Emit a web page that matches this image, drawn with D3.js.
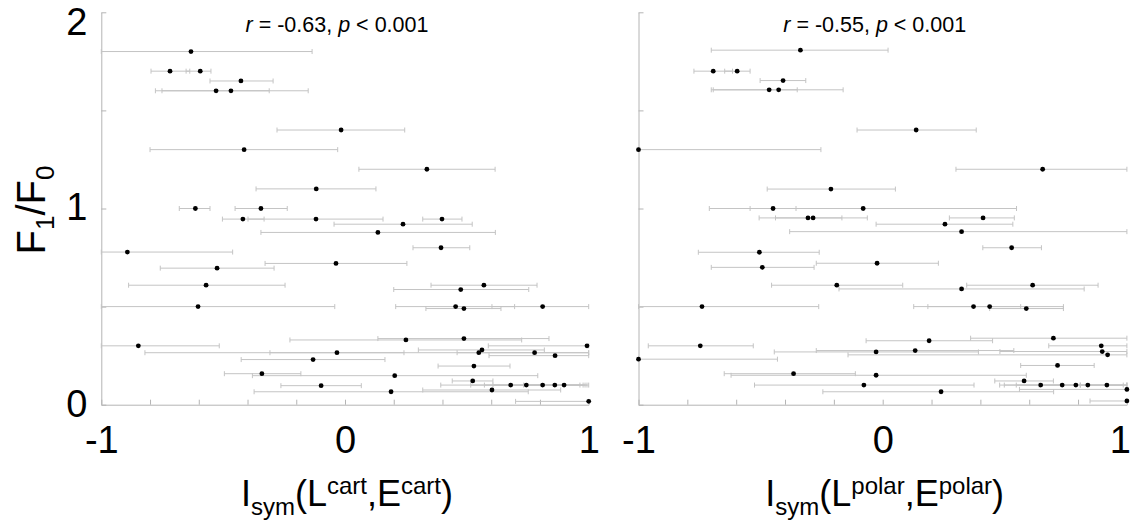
<!DOCTYPE html>
<html>
<head>
<meta charset="utf-8">
<script src="https://cdn.jsdelivr.net/npm/d3@7"></script>
<style>
  body { margin: 0; background: #fff; }
  svg { display: block; font-family: Arial, "Liberation Sans", sans-serif; }
</style>
</head>
<body>
<script>
const w = 1133;
const h = 522;

// F1/F0 values, Isym estimates and interval ends — cartesian panel
const yCart = [1.80, 1.70, 1.70, 1.65, 1.60, 1.60, 1.40, 1.30, 1.20, 1.10, 1.00, 1.00, 0.946, 0.946, 0.946, 0.92, 0.878, 0.80, 0.778, 0.72, 0.696, 0.609, 0.609, 0.587, 0.50, 0.50, 0.50, 0.49, 0.30, 0.33, 0.337, 0.30, 0.265, 0.279, 0.265, 0.265, 0.25, 0.23, 0.197, 0.158, 0.148, 0.121, 0.097, 0.10, 0.10, 0.10, 0.10, 0.10, 0.066, 0.075, 0.017];
const xCart = [-0.632, -0.718, -0.594, -0.427, -0.529, -0.468, -0.016, -0.414, 0.336, -0.118, -0.614, -0.345, 0.398, -0.419, -0.119, 0.238, 0.135, 0.394, -0.893, -0.037, -0.525, -0.570, 0.570, 0.475, -0.603, 0.454, 0.811, 0.488, -0.848, 0.250, 0.488, 0.993, -0.033, 0.562, 0.549, 0.778, 0.862, -0.131, 0.529, -0.341, 0.204, 0.524, -0.098, 0.680, 0.744, 0.811, 0.861, 0.899, 0.189, 0.603, 1.0];
const loCart = [-1.0, -0.796, -0.652, -0.554, -0.751, -0.778, -0.279, -0.800, 0.057, -0.365, -0.680, -0.451, 0.319, -0.503, -0.398, -0.045, -0.345, 0.279, -1.0, -0.328, -0.758, -0.888, 0.353, 0.200, -1.0, 0.208, 0.603, 0.332, -1.0, -0.226, 0.135, 0.588, -0.821, 0.301, 0.460, -0.308, 0.591, -0.426, 0.382, -0.495, -0.380, 0.440, -0.263, 0.393, 0.516, 0.572, 0.607, 0.733, -0.373, 0.319, 0.700];
const hiCart = [-0.135, -0.637, -0.550, -0.295, -0.311, -0.151, 0.245, -0.030, 0.616, 0.127, -0.554, -0.237, 0.480, -0.332, 0.156, 0.522, 0.617, 0.512, -0.461, 0.254, -0.291, -0.246, 0.788, 0.754, -0.042, 0.696, 1.0, 0.640, -0.516, 0.725, 0.837, 1.0, 0.242, 0.818, 1.0, 1.0, 1.0, 0.164, 0.677, -0.181, 0.791, 0.607, 0.067, 0.964, 0.977, 0.985, 0.993, 1.0, 0.752, 0.885, 1.0];

// same for the polar panel
const yPolar = [1.807, 1.70, 1.70, 1.652, 1.605, 1.605, 1.40, 1.30, 1.20, 1.099, 1.00, 1.00, 0.952, 0.952, 0.952, 0.92, 0.882, 0.80, 0.777, 0.721, 0.70, 0.609, 0.609, 0.59, 0.50, 0.50, 0.50, 0.49, 0.30, 0.326, 0.339, 0.30, 0.269, 0.276, 0.271, 0.254, 0.20, 0.232, 0.158, 0.150, 0.100, 0.121, 0.10, 0.10, 0.10, 0.10, 0.10, 0.066, 0.078, 0.019];
const xPolar = [-0.337, -0.694, -0.596, -0.408, -0.465, -0.426, 0.137, -1.0, 0.655, -0.212, -0.449, -0.080, -0.306, -0.285, 0.411, 0.255, 0.323, 0.528, -0.505, -0.023, -0.493, -0.188, 0.614, 0.323, -0.740, 0.372, 0.438, 0.588, -0.747, 0.190, 0.699, 0.895, -0.027, 0.133, 0.899, 0.921, 0.716, -1.0, -0.365, -0.027, -0.077, 0.579, 0.647, 0.735, 0.791, 0.840, 0.918, 0.239, 1.0, 1.0];
const loPolar = [-0.702, -0.773, -0.647, -0.502, -0.694, -0.702, -0.105, -1.0, 0.300, -0.473, -0.710, -0.543, -0.506, -0.439, 0.273, -0.027, -0.381, 0.410, -0.755, -0.272, -0.702, -0.455, 0.344, -0.179, -1.0, 0.127, 0.185, 0.438, -0.960, -0.068, 0.360, 0.680, -0.444, -0.272, 0.480, -0.142, 0.565, -1.0, -0.649, -0.621, -0.525, 0.459, 0.479, 0.498, 0.547, 0.641, 0.809, -0.245, 0.560, 0.849];
const hiPolar = [0.022, -0.615, -0.543, -0.315, -0.350, -0.162, 0.383, -0.253, 1.0, 0.052, -0.355, 0.548, -0.167, -0.063, 0.539, 0.533, 1.0, 0.650, -0.260, 0.228, -0.281, 0.082, 0.882, 0.825, -0.262, 0.565, 0.740, 0.740, -0.530, 0.450, 1.0, 1.0, 0.392, 0.537, 1.0, 1.0, 0.866, -0.431, -0.112, 0.588, 0.374, 0.699, 0.809, 0.985, 1.0, 1.0, 1.0, 0.70, 1.0, 1.0];

const xTicks = [-1, -0.8, -0.6, -0.4, -0.2, 0, 0.2, 0.4, 0.6, 0.8, 1];
const xLabels = [-1, 0, 1];
const yTicks = [0, 0.5, 1, 1.5, 2];
const yLabels = [0, 1, 2];
const stats = ['-0.63', '-0.55'];

const axisColor = '#b4b4b4';
const barColor = '#c4c4c4';

const svg = d3.select('body').append('svg')
              .attr('width', w)
              .attr('height', h);

const yScale = d3.scaleLinear().domain([0, 2]).range([404.7, 12.3]);

const panels = [
  {x: xCart, lo: loCart, hi: hiCart, y: yCart, range: [101.3, 588.7], sup: 'cart', stat: stats[0], labels: true, lastShift: 0},
  {x: xPolar, lo: loPolar, hi: hiPolar, y: yPolar, range: [638.5, 1126.9], sup: 'polar', stat: stats[1], labels: false, lastShift: -7}
];

panels.forEach(p => {
  const xScale = d3.scaleLinear().domain([-1, 1]).range(p.range);
  const g = svg.append('g');

  // x axis, ticks pointing up
  const xAxis = d3.axisBottom(xScale)
                  .tickValues(xTicks)
                  .tickSizeInner(-5)
                  .tickSizeOuter(0)
                  .tickPadding(21)
                  .tickFormat(d => xLabels.some(v => Math.abs(v - d) < 1e-9) ? d3.format('d')(d).replace('−', '-') : '');
  const gx = g.append('g')
              .attr('transform', 'translate(0,' + yScale(0) + ')')
              .call(xAxis);
  gx.select('.domain').attr('stroke', axisColor);
  gx.selectAll('.tick line').attr('stroke', axisColor);
  gx.selectAll('.tick text')
    .attr('fill', '#000')
    .attr('font-size', 38)
    .attr('font-family', 'Arial, "Liberation Sans", sans-serif')
    .attr('dx', d => d === 1 ? p.lastShift : 0);

  // y axis, ticks pointing right
  const yAxis = d3.axisLeft(yScale)
                  .tickValues(yTicks)
                  .tickSizeInner(-5)
                  .tickSizeOuter(0)
                  .tickPadding(14)
                  .tickFormat(d => p.labels && yLabels.includes(d) ? d : '');
  const gy = g.append('g')
              .attr('transform', 'translate(' + p.range[0] + ',0)')
              .call(yAxis);
  gy.select('.domain').attr('stroke', axisColor);
  gy.selectAll('.tick line').attr('stroke', axisColor);
  gy.selectAll('.tick text')
    .attr('fill', '#000')
    .attr('font-size', 38)
    .attr('font-family', 'Arial, "Liberation Sans", sans-serif')
    .attr('dy', d => d === 2 ? '0.58em' : '0.3em');

  // error bars
  const bars = g.append('g').selectAll('g')
                .data(p.x.map((x, i) => ({x: x, lo: p.lo[i], hi: p.hi[i], y: p.y[i]})))
                .enter()
                .append('g')
                .attr('stroke', barColor)
                .attr('stroke-width', 1);
  bars.append('line')
      .attr('x1', d => xScale(d.lo))
      .attr('x2', d => xScale(d.hi))
      .attr('y1', d => yScale(d.y))
      .attr('y2', d => yScale(d.y));
  bars.append('line')
      .attr('x1', d => xScale(d.lo))
      .attr('x2', d => xScale(d.lo))
      .attr('y1', d => yScale(d.y) - 2.5)
      .attr('y2', d => yScale(d.y) + 2.5);
  bars.append('line')
      .attr('x1', d => xScale(d.hi))
      .attr('x2', d => xScale(d.hi))
      .attr('y1', d => yScale(d.y) - 2.5)
      .attr('y2', d => yScale(d.y) + 2.5);

  g.append('g').selectAll('circle')
   .data(p.x.map((x, i) => ({x: x, y: p.y[i]})))
   .enter()
   .append('circle')
   .attr('cx', d => xScale(d.x))
   .attr('cy', d => yScale(d.y))
   .attr('r', 2.4)
   .attr('fill', '#000');

  // correlation note
  const note = g.append('text')
                .attr('x', (p.range[0] + p.range[1]) / 2 - 8)
                .attr('y', 32)
                .attr('text-anchor', 'middle')
                .attr('font-size', 21.5);
  note.append('tspan').attr('font-style', 'italic').text('r');
  note.append('tspan').text(' = ' + p.stat + ', ');
  note.append('tspan').attr('font-style', 'italic').text('p');
  note.append('tspan').text(' < 0.001');

  // x title
  const title = g.append('text')
                 .attr('x', (p.range[0] + p.range[1]) / 2 + 2)
                 .attr('y', 506)
                 .attr('text-anchor', 'middle')
                 .attr('font-size', 36);
  title.append('tspan').text('I');
  title.append('tspan').attr('font-size', 24).attr('dy', 9).text('sym');
  title.append('tspan').attr('dy', -9).text('(L');
  title.append('tspan').attr('font-size', 24).attr('dy', -12).text(p.sup);
  title.append('tspan').attr('dy', 12).text(',E');
  title.append('tspan').attr('font-size', 24).attr('dy', -12).text(p.sup);
  title.append('tspan').attr('dy', 12).text(')');
});

// y title
const yTitle = svg.append('text')
                  .attr('transform', 'translate(45,210) rotate(-90)')
                  .attr('text-anchor', 'middle')
                  .attr('font-size', 40);
yTitle.append('tspan').text('F');
yTitle.append('tspan').attr('font-size', 26).attr('dy', 9).text('1');
yTitle.append('tspan').attr('dy', -9).text('/F');
yTitle.append('tspan').attr('font-size', 26).attr('dy', 9).text('0');
</script>
</body>
</html>
